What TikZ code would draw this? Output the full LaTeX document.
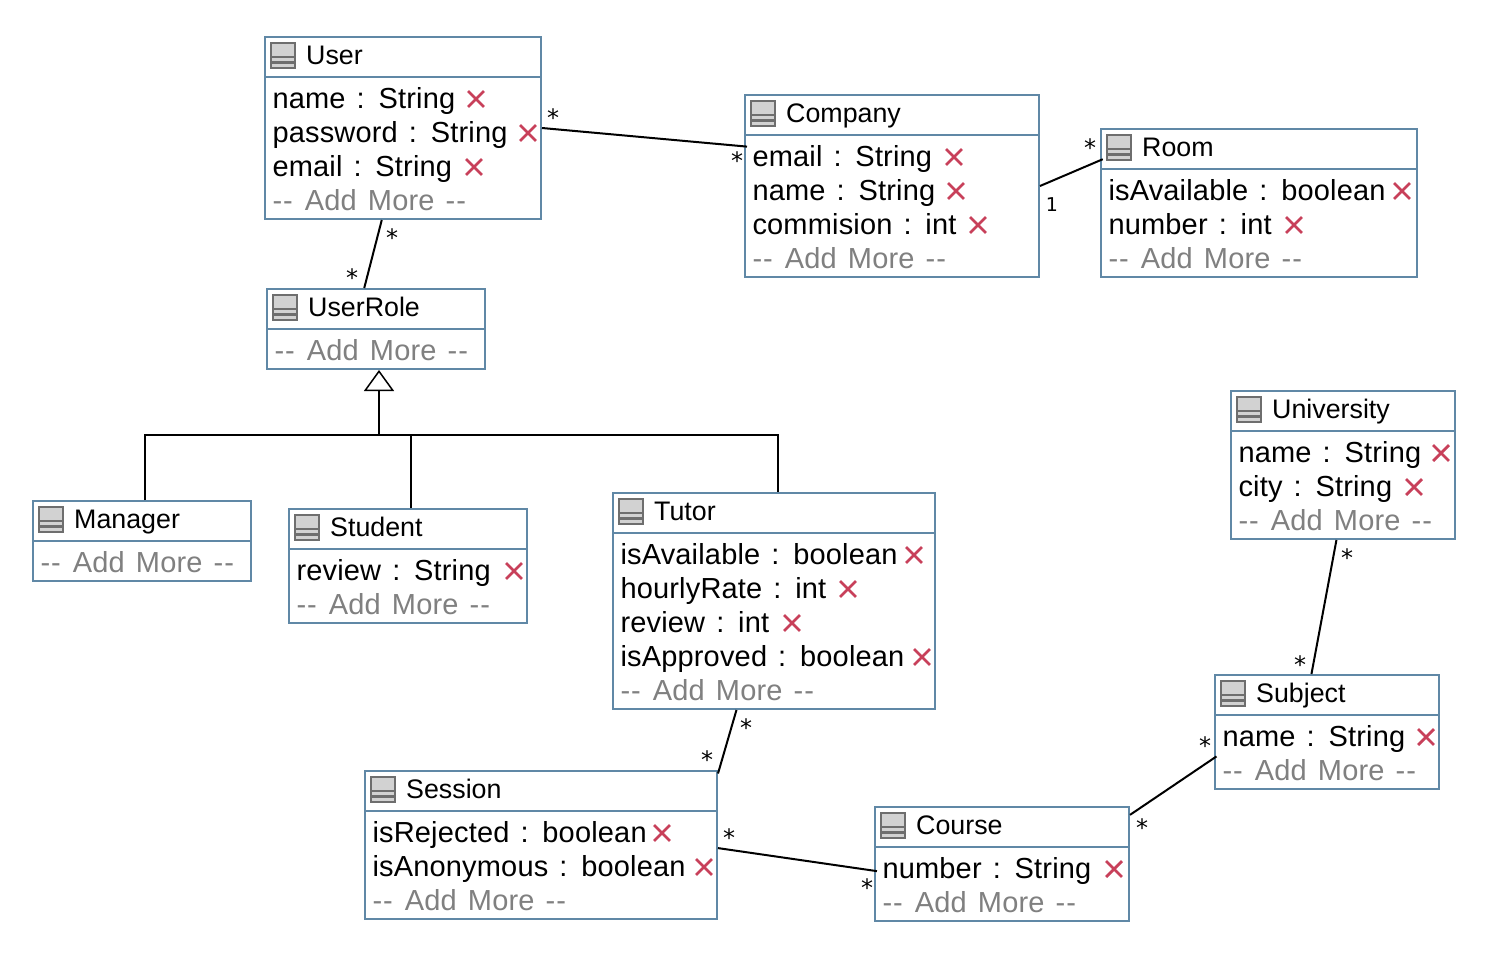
\documentclass[tikz,border=0pt]{standalone}
\usepackage{fontspec}
\setmainfont[WordSpace=1.35,LetterSpace=0.6]{Liberation Sans}
\newfontfamily\titlefont{Liberation Sans}
\newfontfamily\multfont{DejaVu Sans}
\usetikzlibrary{arrows.meta, shapes.misc}

\definecolor{boxblue}{HTML}{6088A6}
\definecolor{delred}{HTML}{C8405A}
\definecolor{moregrey}{HTML}{808080}
\definecolor{icongrey}{HTML}{6E6E6E}
\definecolor{iconfill}{HTML}{D2D2D2}

\newcommand{\addmore}{-\kern1pt-\kern1pt{} Add More -\kern1pt-}

\tikzset{
    classbox/.style={rectangle,draw=boxblue,line width=2pt,fill=white,inner sep=0pt},
    classtitle/.style={anchor=base west,inner sep=0pt,font=\titlefont\fontsize{26.8}{27}\selectfont},
    attr/.style={anchor=base west,inner sep=0pt,xshift=-0.7pt,font=\fontsize{29}{29}\selectfont},
    addmorestyle/.style={attr,text=moregrey},
    delmark/.style={cross out,draw=delred,line width=2.8pt,inner sep=0pt,minimum size=13pt},
    mult/.style={inner sep=0pt,font=\multfont\fontsize{19}{19}\selectfont},
    multstar/.style={inner sep=0pt,yshift=-2pt,font=\multfont\fontsize{24}{24}\selectfont},
    assoc/.style={draw=black,line width=2pt},
    tableicon/.pic={
        \draw [icongrey,line width=2.2pt,fill=iconfill] (7,7) rectangle (31,32);
        \draw [icongrey,line width=2.2pt] (7,21) -- (31,21) (7,26.5) -- (31,26.5);
    }
}

\begin{document}
\begin{tikzpicture}[x=1pt,y=-1pt]
\useasboundingbox (0,0) rectangle (1508,972);

\begin{scope}[every node/.style={classbox}]
    \node (user) at (403,128) [minimum width=276pt,minimum height=182pt] {};
    \node (company) at (892,186) [minimum width=294pt,minimum height=182pt] {};
    \node (room) at (1259,203) [minimum width=316pt,minimum height=148pt] {};
    \node (userRole) at (376,329) [minimum width=218pt,minimum height=80pt] {};
    \node (manager) at (142,541) [minimum width=218pt,minimum height=80pt] {};
    \node (student) at (408,566) [minimum width=238pt,minimum height=114pt] {};
    \node (tutor) at (774,601) [minimum width=322pt,minimum height=216pt] {};
    \node (session) at (541,845) [minimum width=352pt,minimum height=148pt] {};
    \node (course) at (1002,864) [minimum width=254pt,minimum height=114pt] {};
    \node (subject) at (1327,732) [minimum width=224pt,minimum height=114pt] {};
    \node (university) at (1343,465) [minimum width=224pt,minimum height=148pt] {};
\end{scope}

% header line and icon of every class
\foreach \c in {user,company,room,userRole,manager,student,tutor,session,course,subject,university} {
    \draw [boxblue,line width=2pt] ([yshift=-41pt]\c.north west) -- ([yshift=-41pt]\c.north east);
    \pic at (\c.north west) {tableicon};
}

\node (userTitle) at ([shift={(42,28)}]user.north west) [classtitle] {User};
\node (companyTitle) at ([shift={(42,28)}]company.north west) [classtitle] {Company};
\node (roomTitle) at ([shift={(42,28)}]room.north west) [classtitle] {Room};
\node (userRoleTitle) at ([shift={(42,28)}]userRole.north west) [classtitle] {UserRole};
\node (managerTitle) at ([shift={(42,28)}]manager.north west) [classtitle] {Manager};
\node (studentTitle) at ([shift={(42,28)}]student.north west) [classtitle] {Student};
\node (tutorTitle) at ([shift={(42,28)}]tutor.north west) [classtitle] {Tutor};
\node (sessionTitle) at ([shift={(42,28)}]session.north west) [classtitle] {Session};
\node (courseTitle) at ([shift={(42,28)}]course.north west) [classtitle] {Course};
\node (subjectTitle) at ([shift={(42,28)}]subject.north west) [classtitle] {Subject};
\node (universityTitle) at ([shift={(42,28)}]university.north west) [classtitle] {University};

% attributes
\node (userName) at (273,108) [attr] {name : String};
\node (userNameDel) at (476,99) [delmark] {};
\node (userPass) at (273,142) [attr] {password : String};
\node (userPassDel) at (528,133) [delmark] {};
\node (userMail) at (273,176) [attr] {email : String};
\node (userMailDel) at (474,167) [delmark] {};
\node (userMore) at (273,210) [addmorestyle] {\addmore};

\node (companyMail) at (753,166) [attr] {email : String};
\node (companyMailDel) at (954,157) [delmark] {};
\node (companyName) at (753,200) [attr] {name : String};
\node (companyNameDel) at (956,191) [delmark] {};
\node (companyComm) at (753,234) [attr] {commision : int};
\node (companyCommDel) at (978,225) [delmark] {};
\node (companyMore) at (753,268) [addmorestyle] {\addmore};

\node (roomAvail) at (1109,200) [attr] {isAvailable : boolean};
\node (roomAvailDel) at (1402,191) [delmark] {};
\node (roomNumber) at (1109,234) [attr] {number : int};
\node (roomNumberDel) at (1294,225) [delmark] {};
\node (roomMore) at (1109,268) [addmorestyle] {\addmore};

\node (userRoleMore) at (275,360) [addmorestyle] {\addmore};

\node (managerMore) at (41,572) [addmorestyle] {\addmore};

\node (studentReview) at (297,580) [attr] {review : String};
\node (studentReviewDel) at (514,571) [delmark] {};
\node (studentMore) at (297,614) [addmorestyle] {\addmore};

\node (tutorAvail) at (621,564) [attr] {isAvailable : boolean};
\node (tutorAvailDel) at (914,555) [delmark] {};
\node (tutorRate) at (621,598) [attr] {hourlyRate : int};
\node (tutorRateDel) at (848,589) [delmark] {};
\node (tutorReview) at (621,632) [attr] {review : int};
\node (tutorReviewDel) at (792,623) [delmark] {};
\node (tutorApproved) at (621,666) [attr] {isApproved : boolean};
\node (tutorApprovedDel) at (922,657) [delmark] {};
\node (tutorMore) at (621,700) [addmorestyle] {\addmore};

\node (sessionRej) at (373,842) [attr] {isRejected : boolean};
\node (sessionRejDel) at (662,833) [delmark] {};
\node (sessionAnon) at (373,876) [attr] {isAnonymous : boolean};
\node (sessionAnonDel) at (704,867) [delmark] {};
\node (sessionMore) at (373,910) [addmorestyle] {\addmore};

\node (courseNumber) at (883,878) [attr] {number : String};
\node (courseNumberDel) at (1114,869) [delmark] {};
\node (courseMore) at (883,912) [addmorestyle] {\addmore};

\node (subjectName) at (1223,746) [attr] {name : String};
\node (subjectNameDel) at (1426,737) [delmark] {};
\node (subjectMore) at (1223,780) [addmorestyle] {\addmore};

\node (universityName) at (1239,462) [attr] {name : String};
\node (universityNameDel) at (1441,453) [delmark] {};
\node (universityCity) at (1239,496) [attr] {city : String};
\node (universityCityDel) at (1414,487) [delmark] {};
\node (universityMore) at (1239,530) [addmorestyle] {\addmore};

% associations
\draw [assoc,shorten >=-3pt] (user.-0.4) -- (company.165.2);
\draw [assoc,shorten >=-3pt] (company.east) -- (room.165.8);
\draw [assoc] (user.257.6) -- (userRole.106.7);
\draw [assoc] (tutor.251.25) -- (session.22.8);
\draw [assoc,shorten >=-3pt] (session.-1.3) -- (course.183.6);
\draw [assoc,shorten >=-3pt] (course.21.9) -- (subject.193);
\draw [assoc] (university.265.4) -- (subject.105.7);

% inheritance
\coordinate (bus) at (379,435);
\draw [assoc] (manager.86.3) |- (bus) -| (tutor.88.6);
\draw [assoc] (student.87) |- (bus);
\draw [assoc,-{Triangle[open,fill=white,length=21pt,width=30pt,line width=1.5pt]}] (bus) -- (bus |- userRole.south);

% multiplicities
\node (multA) at (553,116) [multstar] {*};
\node (multB) at (737,159) [multstar] {*};
\node (multC) at (1090,146) [multstar] {*};
\node (multD) at (1052,205) [mult] {1};
\node (multE) at (392,236) [multstar] {*};
\node (multF) at (352,276) [multstar] {*};
\node (multG) at (746,726) [multstar] {*};
\node (multH) at (707,758) [multstar] {*};
\node (multI) at (729,836) [multstar] {*};
\node (multJ) at (867,886) [multstar] {*};
\node (multK) at (1142,826) [multstar] {*};
\node (multL) at (1205,744) [multstar] {*};
\node (multM) at (1347,556) [multstar] {*};
\node (multN) at (1300,663) [multstar] {*};
\end{tikzpicture}
\end{document}
